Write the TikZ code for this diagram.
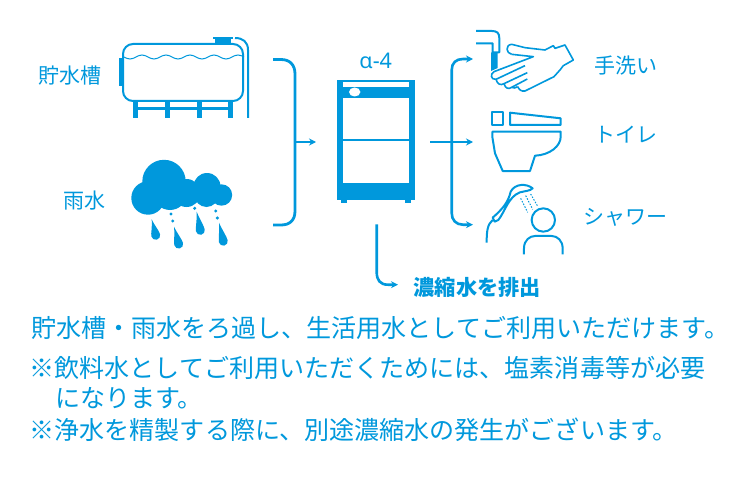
\documentclass[tikz,border=0pt]{standalone}
\usepackage{fontspec}
\setmainfont{Noto Sans CJK JP}
\newfontfamily\latinfont{Noto Sans}
\usepackage{xcolor}
\usetikzlibrary{positioning,calc,arrows.meta}
\definecolor{waterblue}{RGB}{0,152,220}
\tikzset{
  lbl/.style={text=waterblue, inner sep=0pt, font=\fontsize{21}{24}\selectfont},
  para/.style={text=waterblue, inner sep=0pt, anchor=west, font=\fontsize{25.05}{28}\selectfont},
  flow/.style={draw=waterblue, line width=2.6pt, -{Stealth[length=7pt,width=7pt]}},
  icon/.style={draw=waterblue, line width=2pt, line join=round},
  thinicon/.style={draw=waterblue, line width=1.6pt, line join=round},
}
\begin{document}
\begin{tikzpicture}[x=1pt, y=-1pt]
\useasboundingbox (0,0) rectangle (748,495);
% sources
\node[lbl] (tanklbl) at (70,76) {貯水槽};
\node[lbl] (rainlbl) at (84.5,201) {雨水};
% tank
\draw[icon] (123,44) [rounded corners=10pt] rectangle (243,101);
\fill[waterblue] (119,58) rectangle (122,86);
\fill[waterblue] (213,37) rectangle (233,39);
\fill[waterblue] (215,39) rectangle (231,44);
\draw[draw=waterblue, line width=1pt] (124,57) \foreach \k in {1,...,5} { sin ++(6,2) cos ++(6,-2) sin ++(6,-2) cos ++(6,2) };
\draw[icon] (235,38) .. controls (243,38) and (248,42) .. (248,50) -- (248,118);
\foreach \k in {133,164.5,197,228} {
  \fill[waterblue] (\k,101) rectangle ++(5,17);
}
\fill[waterblue] (135,107) rectangle (230,110);
% cloud
\fill[waterblue] (164,181.5) circle (21.7);
\fill[waterblue] (148,198) circle (16.7);
\fill[waterblue] (207,186.5) circle (13.5);
\fill[waterblue] (221.5,195) circle (10.7);
\fill[waterblue] (186.5,193) circle (14);
\fill[waterblue] (170,193) circle (17);
\fill[waterblue] (206.5,195) circle (12);
\foreach \x/\y in {150.3/212.7, 171/214, 172.7/221, 194.7/208.3, 215.7/211, 217.3/218} {
  \fill[waterblue] (\x,\y) circle (1.7);
}
\foreach \x/\y/\r/\l in {151.7/219.3/14/21, 174/226.7/15/22.5, 196.7/211.7/11/23.5, 219/222.7/13/23.5} {
  \fill[waterblue, shift={(\x,\y)}, rotate=\r] (0,0) .. controls (-1,7) and (-4.5,\l-7) .. (-4.5,\l-4.5) arc (180:0:4.5) .. controls (4.5,\l-8) and (1,6) .. (0,0);
}
% bracket into unit
\coordinate (inmid) at (295,142);
\coordinate (unitin) at (316,142);
\draw[draw=waterblue, line width=2.8pt] (273,59.5) -- (281,59.5) .. controls (290,59.5) and (295,65) .. (295,74) -- (295,211) .. controls (295,220) and (290,225) .. (281,225) -- (273,225);
\draw[flow, line width=1.8pt] (inmid) -- (unitin);
% unit
\node[lbl, font=\latinfont\fontsize{21.5}{24}\selectfont] (unitlbl) at (375.7,60.5) {α-4};
\fill[waterblue] (337.3,80) rectangle (414.7,199.5);
\fill[waterblue] (341,199) rectangle (347,203);
\fill[waterblue] (404.7,199) rectangle (410.7,203);
\fill[white] (343,82.5) rectangle (409,86.7);
\fill[white] (354.7,92) ellipse (5.7 and 4.5);
\fill[white] (343,97.7) rectangle (409,138.7);
\fill[white] (343,140.7) rectangle (409,182.7);
% drain
\coordinate (drainstart) at (376.7,224.3);
\coordinate (drainend) at (398,284.7);
\draw[flow, line width=2.6pt] (drainstart) -- (376.7,272) .. controls (376.7,280) and (380,284.7) .. (388,284.7) -- (drainend);
\node[lbl, anchor=west, font=\fontsize{21.2}{24}\selectfont\bfseries] (drainlbl) at (413.5,287) {濃縮水を排出};
% outputs
\coordinate (outstart) at (430,142);
\coordinate (handsin) at (473,59);
\coordinate (toiletin) at (473,142);
\coordinate (showerin) at (473,224.7);
\draw[flow] (outstart) -- (toiletin);
\draw[flow] (451.7,142) -- (451.7,70) .. controls (451.7,63) and (456,59) .. (463,59) -- (handsin);
\draw[flow] (451.7,142) -- (451.7,213) .. controls (451.7,220) and (456,224.7) .. (463,224.7) -- (showerin);
\node[lbl] (handslbl) at (625.5,65.5) {手洗い};
\node[lbl] (toiletlbl) at (626,134.5) {トイレ};
\node[lbl] (showerlbl) at (625,217) {シャワー};
% tap and hands
\draw[icon] (476,31) -- (492,31) .. controls (497,31) and (499.3,33) .. (499.3,38) -- (499.3,52.3) -- (492.7,52.3) -- (492.7,43.3) -- (476,43.3);
\fill[waterblue] (491,52.3) -- (497.7,52.3) -- (497.7,68) -- (491,71) -- cycle;
\begin{scope}[shift={(470,25)}, x=0.3333pt, y=-0.3333pt]
\fill[white] (190,95) -- (72,140) -- (62,155) -- (85,178) -- (110,190) -- (150,198) -- (165,198) -- (200,160) -- cycle;
\draw[thinicon] (125,88) .. controls (108,85) and (105,60) .. (125,58) -- (165,68) -- (225,75) -- (250,62) -- (255,70) -- (285,60) -- (310,105) -- (280,122) -- (270,135) -- (252,155) -- (165,198) .. controls (155,200) and (148,195) .. (143,185);
\draw[thinicon] (125,88) -- (190,95) -- (72,140) .. controls (60,146) and (62,165) .. (78,163) -- (165,122);
\draw[thinicon] (78,163) .. controls (82,178) and (92,182) .. (102,176) -- (172,143);
\draw[thinicon] (102,176) .. controls (106,190) and (115,194) .. (125,187) -- (172,162);
\draw[thinicon] (125,187) .. controls (130,190) and (138,190) .. (143,185);
\end{scope}
% toilet
\draw[icon] (492.3,112.3) rectangle (503,125);
\draw[icon] (510,112.7) -- (560.7,118.3) -- (560.7,125) -- (510,125) -- cycle;
\draw[icon] (492.3,131.7) -- (560.7,131.7) -- (560.7,136.7) .. controls (560.7,146) and (550,155) .. (535,155.7) -- (530,171) -- (502.7,171) -- (495,153.3) -- (492.3,136.7) -- cycle;
% shower
\begin{scope}[shift={(480,175)}, x=0.3333pt, y=-0.3333pt]
\draw[icon] (158,40) .. controls (140,25) and (105,25) .. (92,50) .. controls (85,80) and (70,100) .. (38,128) -- (44,140) -- (55,135) .. controls (75,110) and (85,65) .. (120,52) .. controls (135,48) and (150,48) .. (158,40) -- cycle;
\draw[icon] (38,135) .. controls (22,148) and (20,170) .. (20,203);
\foreach \a/\b/\c/\d in {122/70/143/112, 137/62/158/103, 152/57/172/92} {
  \draw[draw=waterblue, line width=1pt, dash pattern=on 1.5pt off 1.5pt] (\a,\b) -- (\c,\d);
}
\draw[icon] (190,135) circle (35);
\draw[icon] (132,238) -- (132,220) .. controls (132,195) and (150,183) .. (165,183) -- (215,183) .. controls (232,183) and (248,197) .. (248,220) -- (248,238);
\end{scope}
% notes
\node[para] (line1) at (31,328) {貯水槽・雨水をろ過し、生活用水としてご利用いただけます。};
\node[para] (line2) at (29.5,368) {※飲料水としてご利用いただくためには、塩素消毒等が必要};
\node[para] (line3) at (55,398) {になります。};
\node[para] (line4) at (29.5,430) {※浄水を精製する際に、別途濃縮水の発生がございます。};
\end{tikzpicture}
\end{document}
